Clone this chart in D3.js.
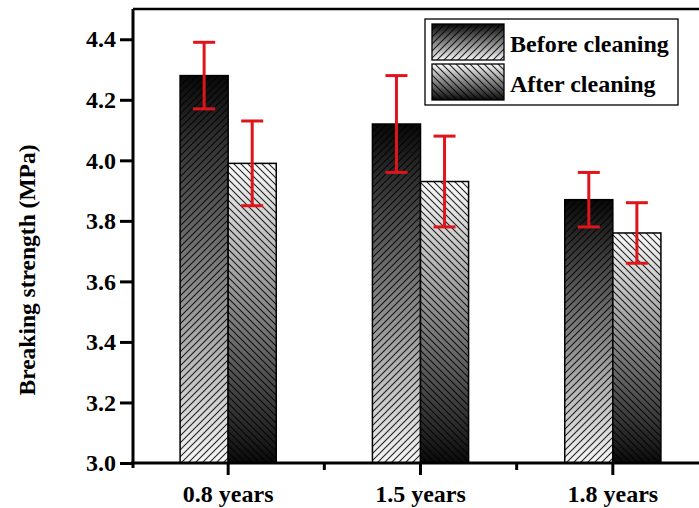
<!DOCTYPE html>
<html>
<head>
<meta charset="utf-8">
<script src="https://cdn.jsdelivr.net/npm/d3@7"></script>
<style>
html,body{margin:0;padding:0;background:#fff;}
svg{display:block;font-family:"Liberation Serif","Times New Roman",serif;font-weight:bold;}
</style>
</head>
<body>
<svg id="chart" width="699" height="508"></svg>
<script>
const categories = ["0.8 years", "1.5 years", "1.8 years"];
const seriesNames = ["Before cleaning", "After cleaning"];
const beforeValues = [4.28, 4.12, 3.87];
const beforeErrors = [0.11, 0.16, 0.09];
const afterValues = [3.99, 3.93, 3.76];
const afterErrors = [0.14, 0.15, 0.10];
const yTicks = [3.0, 3.2, 3.4, 3.6, 3.8, 4.0, 4.2, 4.4];

const svg = d3.select("#chart");
const mLeft = 133, mRight = 709, mTop = 9, mBottom = 463;

const x = d3.scaleBand().domain(categories).range([mLeft - 1, mRight]).paddingInner(0).paddingOuter(0);
const y = d3.scaleLinear().domain([3.0, 4.5]).range([mBottom, mTop]);

const defs = svg.append("defs");
function grad(id, c1, c2) {
  const g = defs.append("linearGradient").attr("id", id)
    .attr("x1", 0).attr("y1", 0).attr("x2", 0).attr("y2", 1);
  g.append("stop").attr("offset", "0%").attr("stop-color", c1);
  g.append("stop").attr("offset", "100%").attr("stop-color", c2);
}
grad("gBefore", "#080808", "#f6f6f6");
grad("gAfter", "#fcfcfc", "#0a0a0a");

function hatch(id, dir) {
  const p = defs.append("pattern").attr("id", id).attr("patternUnits", "userSpaceOnUse")
    .attr("width", 7).attr("height", 7);
  const d = dir > 0 ? "M-1,1 L1,-1 M0,7 L7,0 M6,8 L8,6" : "M-1,6 L1,8 M0,0 L7,7 M6,-1 L8,1";
  p.append("path").attr("d", d).attr("stroke", "#000").attr("stroke-width", 1.1).attr("stroke-opacity", 0.85);
}
hatch("hBefore", 1);
hatch("hAfter", -1);

const series = [
  {name: seriesNames[0], values: beforeValues, errors: beforeErrors, g: "gBefore", h: "hBefore", off: -1},
  {name: seriesNames[1], values: afterValues, errors: afterErrors, g: "gAfter", h: "hAfter", off: 0}
];
const bw = x.bandwidth() / 4;

series.forEach(s => {
  const grp = svg.append("g");
  categories.forEach((c, i) => {
    const cx = x(c) + x.bandwidth() / 2;
    const bx = cx + s.off * bw;
    const by = y(s.values[i]);
    const h = y(3.0) - by;
    grp.append("rect").attr("x", bx).attr("y", by).attr("width", bw).attr("height", h).attr("fill", `url(#${s.g})`);
    grp.append("rect").attr("x", bx).attr("y", by).attr("width", bw).attr("height", h).attr("fill", `url(#${s.h})`);
    grp.append("rect").attr("x", bx).attr("y", by).attr("width", bw).attr("height", h)
      .attr("fill", "none").attr("stroke", "#000").attr("stroke-width", 1.5);
  });
});

// error bars
series.forEach(s => {
  categories.forEach((c, i) => {
    const ex = x(c) + x.bandwidth() / 2 + s.off * bw + bw / 2;
    const y1 = y(s.values[i] + s.errors[i]), y2 = y(s.values[i] - s.errors[i]);
    const g = svg.append("g").attr("stroke", "#e0141b").attr("stroke-width", 3);
    g.append("line").attr("x1", ex).attr("x2", ex).attr("y1", y1).attr("y2", y2);
    g.append("line").attr("x1", ex - 11).attr("x2", ex + 11).attr("y1", y1).attr("y2", y1);
    g.append("line").attr("x1", ex - 11).attr("x2", ex + 11).attr("y1", y2).attr("y2", y2);
  });
});

// top frame
svg.append("line").attr("x1", mLeft).attr("x2", 699).attr("y1", mTop).attr("y2", mTop)
  .attr("stroke", "#000").attr("stroke-width", 2.5);

// y axis
const yAxis = d3.axisLeft(y).tickValues(yTicks).tickFormat(d3.format(".1f")).tickSizeInner(13).tickSizeOuter(0).tickPadding(4);
const ya = svg.append("g").attr("transform", `translate(${mLeft},0)`).call(yAxis);
ya.select(".domain").attr("stroke-width", 3).attr("d", `M0,${mTop}V${mBottom + 5}`);
ya.selectAll(".tick line").attr("stroke-width", 3);
ya.selectAll(".tick text").attr("font-size", 24).attr("font-family", "Liberation Serif").attr("font-weight", "bold").attr("fill", "#000");

// x axis
const xAxis = d3.axisBottom(x).tickSizeInner(12).tickSizeOuter(0).tickPadding(10);
const xa = svg.append("g").attr("transform", `translate(0,${mBottom})`).call(xAxis);
xa.select(".domain").attr("stroke-width", 3).attr("d", `M${mLeft - 2},0H${mRight}`);
xa.selectAll(".tick line").attr("stroke-width", 3);
xa.selectAll(".tick text").attr("font-size", 24).attr("font-family", "Liberation Serif").attr("font-weight", "bold").attr("fill", "#000");
// minor ticks at category boundaries
xa.selectAll(".minor").data(categories.slice(1)).enter().append("line")
  .attr("x1", d => x(d)).attr("x2", d => x(d)).attr("y1", 0).attr("y2", 7)
  .attr("stroke", "#000").attr("stroke-width", 3);

// y title
svg.append("text").attr("transform", "translate(35,270) rotate(-90)")
  .attr("text-anchor", "middle").attr("font-size", 23.5).attr("fill", "#000")
  .text("Breaking strength (MPa)");

// legend
const lg = svg.append("g");
lg.append("rect").attr("x", 425).attr("y", 19).attr("width", 253).attr("height", 86)
  .attr("fill", "#fff").attr("stroke", "#000").attr("stroke-width", 1.3);
series.forEach((s, i) => {
  const sy = 24 + i * 40;
  lg.append("rect").attr("x", 432).attr("y", sy).attr("width", 72).attr("height", 36).attr("fill", `url(#${s.g})`);
  lg.append("rect").attr("x", 432).attr("y", sy).attr("width", 72).attr("height", 36).attr("fill", `url(#${s.h})`);
  lg.append("rect").attr("x", 432).attr("y", sy).attr("width", 72).attr("height", 36)
    .attr("fill", "none").attr("stroke", "#000").attr("stroke-width", 1.3);
  lg.append("text").attr("x", 510).attr("y", sy + 28).attr("font-size", 24).attr("fill", "#000").text(s.name);
});
</script>
</body>
</html>
